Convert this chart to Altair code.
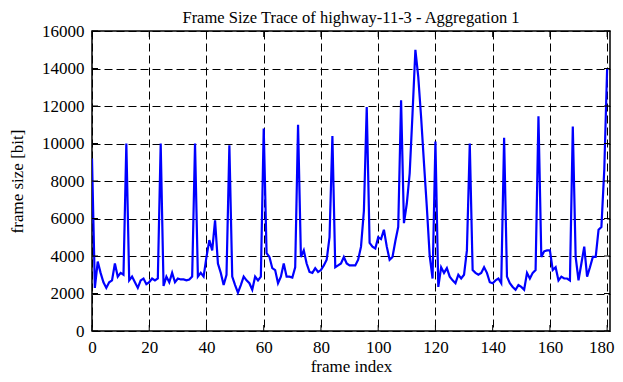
import altair as alt
import pandas as pd

# ---- data ----
frames = list(range(181))
sizes = [
    9200, 2300, 3700, 3100, 2600, 2300, 2600, 2700, 3600, 2900,
    3100, 3000, 10000, 2700, 2900, 2600, 2300, 2700, 2800, 2500,
    2600, 2800, 2700, 2800, 10000, 2400, 2900, 2600, 3100, 2600,
    2800, 2750, 2750, 2700, 2750, 2900, 10000, 2900, 3100, 2900,
    3950, 4850, 4300, 5900, 3600, 3100, 2450, 3000, 9900, 2900,
    2450, 2050, 2450, 2900, 2700, 2550, 2200, 2900, 2700, 2900,
    10800, 4150, 3950, 3350, 3250, 2550, 2900, 3600, 2900, 2900,
    2850, 3400, 11000, 3950, 4300, 3600, 3150, 3100, 3350, 3150,
    3250, 3500, 3800, 5000, 10400, 3400, 3500, 3600, 3950, 3600,
    3500, 3500, 3500, 3800, 4500, 6400, 11950, 4700, 4500, 4400,
    5000, 4900, 5400, 4500, 3800, 3950, 4800, 5550, 12300, 5750,
    6800, 8400, 11600, 15000, 13550, 11400, 8950, 6600, 4000, 2800,
    10100, 2350, 3400, 3100, 3350, 2900, 2700, 2550, 3000, 2800,
    3000, 4300, 10000, 3250, 3100, 3000, 3100, 3400, 3100, 2600,
    2550, 2700, 2800, 2550, 10300, 2900, 2550, 2350, 2200, 2450,
    2350, 2200, 3100, 2800, 3100, 3250, 11450, 3950, 4250, 4300,
    4300, 3250, 3400, 2700, 2900, 2800, 2800, 2700, 10900, 3950,
    2700, 3600, 4500, 2900, 3400, 3950, 3950, 5400, 5550, 8600,
    14000,
]
x_ticks = list(range(0, 181, 20))
y_ticks = list(range(0, 16001, 2000))

title_text = "Frame Size Trace of highway-11-3 - Aggregation 1"
x_title = "frame index"
y_title = "frame size [bit]"

W, H = 518, 300
FONT = "Liberation Serif"

df = pd.DataFrame({"frame": frames, "size": sizes})
xt = pd.DataFrame({"t": x_ticks})
yt = pd.DataFrame({"t": y_ticks})
tt = pd.DataFrame({"label": [title_text]})

xs = alt.Scale(domain=[0, 181], nice=False, zero=False)
ys = alt.Scale(domain=[0, 16000], nice=False)


def x_axis():
    return alt.Axis(values=x_ticks, title=x_title, grid=True, ticks=False,
                    domain=False, labelPadding=8, titlePadding=3, format="d",
                    labelFlush=False, labelOverlap=False,
                    labelOffset=alt.ExprRef(expr="datum.value === 180 ? -6 : 0"))


def y_axis():
    return alt.Axis(values=y_ticks, title=y_title, grid=True, ticks=False,
                    domain=False, labelPadding=8, titlePadding=15, format="d",
                    labelFlush=False, labelOverlap=False)


line = alt.Chart(df).mark_line(color="#0000ff", strokeWidth=2.2, clip=True).encode(
    x=alt.X("frame:Q", scale=xs, axis=x_axis()),
    y=alt.Y("size:Q", scale=ys, axis=y_axis()),
)

tick_len = 6
xb = alt.Chart(xt).mark_rule(color="black", strokeWidth=1).encode(
    x=alt.X("t:Q", scale=xs, axis=x_axis()), y=alt.value(H), y2=alt.value(H - tick_len))
xtop = alt.Chart(xt).mark_rule(color="black", strokeWidth=1).encode(
    x=alt.X("t:Q", scale=xs, axis=x_axis()), y=alt.value(0), y2=alt.value(tick_len))
yl = alt.Chart(yt).mark_rule(color="black", strokeWidth=1).encode(
    y=alt.Y("t:Q", scale=ys, axis=y_axis()), x=alt.value(0), x2=alt.value(tick_len))
yr = alt.Chart(yt).mark_rule(color="black", strokeWidth=1).encode(
    y=alt.Y("t:Q", scale=ys, axis=y_axis()), x=alt.value(W), x2=alt.value(W - tick_len))

title_mark = alt.Chart(tt).mark_text(
    font=FONT, fontSize=16.5, color="black", align="center", baseline="alphabetic",
    clip=False,
).encode(text="label:N", x=alt.value(W / 2), y=alt.value(-8))

chart = alt.layer(line, xb, xtop, yl, yr, title_mark).properties(
    width=W, height=H,
    background="white",
    autosize=alt.AutoSizeParams(type="none"),
    padding={"left": 84, "top": 23, "right": 5, "bottom": 43},
).configure_view(
    stroke="black", strokeWidth=1.5
).configure_axis(
    labelFont=FONT, labelFontSize=17, labelColor="black",
    titleFont=FONT, titleFontSize=17, titleColor="black", titleFontWeight="normal",
    gridColor="black", gridOpacity=1, gridWidth=1, gridDash=[8, 4],
)

chart.save("out.html", embed_options={"renderer": "svg", "actions": False})
